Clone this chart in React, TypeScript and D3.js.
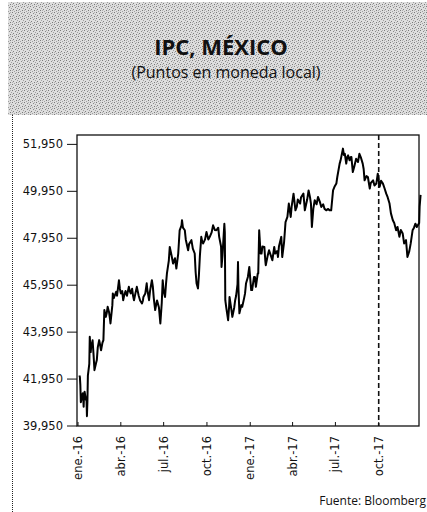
import React from "react";
import * as d3 from "d3";

const dates: string[] = [
  "2016-01-04","2016-01-05","2016-01-06","2016-01-07","2016-01-08","2016-01-11","2016-01-12","2016-01-13","2016-01-14","2016-01-15",
  "2016-01-18","2016-01-19","2016-01-20","2016-01-21","2016-01-22","2016-01-25","2016-01-26","2016-01-27","2016-01-28","2016-01-29",
  "2016-02-01","2016-02-03","2016-02-05","2016-02-08","2016-02-10","2016-02-12","2016-02-15","2016-02-17","2016-02-19","2016-02-22",
  "2016-02-24","2016-02-26","2016-02-29","2016-03-02","2016-03-04","2016-03-07","2016-03-09","2016-03-10","2016-03-14","2016-03-15",
  "2016-03-17","2016-03-22","2016-03-24","2016-03-28","2016-03-30","2016-04-01","2016-04-04","2016-04-06","2016-04-08","2016-04-11",
  "2016-04-14","2016-04-18","2016-04-20","2016-04-22","2016-04-25","2016-04-27","2016-04-29","2016-05-02","2016-05-05","2016-05-09",
  "2016-05-12","2016-05-16","2016-05-18","2016-05-19","2016-05-23","2016-05-26","2016-05-27","2016-05-31","2016-06-02","2016-06-06",
  "2016-06-08","2016-06-10","2016-06-13","2016-06-15","2016-06-17","2016-06-21","2016-06-24","2016-06-27","2016-06-29","2016-07-01",
  "2016-07-04","2016-07-06","2016-07-08","2016-07-12","2016-07-14","2016-07-18","2016-07-21","2016-07-25","2016-07-28","2016-08-01",
  "2016-08-04","2016-08-08","2016-08-09","2016-08-11","2016-08-15","2016-08-17","2016-08-22","2016-08-24","2016-08-29","2016-09-01",
  "2016-09-05","2016-09-07","2016-09-09","2016-09-12","2016-09-14","2016-09-16","2016-09-19","2016-09-21","2016-09-23","2016-09-27",
  "2016-09-30","2016-10-04","2016-10-07","2016-10-11","2016-10-14","2016-10-18","2016-10-21","2016-10-25","2016-10-27","2016-10-31",
  "2016-11-01","2016-11-03","2016-11-07","2016-11-08","2016-11-09","2016-11-11","2016-11-15","2016-11-17","2016-11-18","2016-11-22",
  "2016-11-24","2016-11-28","2016-11-30","2016-12-02","2016-12-05","2016-12-06","2016-12-07","2016-12-09","2016-12-13","2016-12-15",
  "2016-12-19","2016-12-21","2016-12-23","2016-12-27","2016-12-30",
  "2017-01-03","2017-01-05","2017-01-09","2017-01-11","2017-01-13","2017-01-17","2017-01-18","2017-01-20","2017-01-23","2017-01-25",
  "2017-01-27","2017-01-31","2017-02-02","2017-02-03","2017-02-07","2017-02-10","2017-02-14","2017-02-17","2017-02-21","2017-02-23",
  "2017-02-27","2017-03-01","2017-03-03","2017-03-08","2017-03-10","2017-03-14","2017-03-17","2017-03-21","2017-03-24","2017-03-28",
  "2017-03-30","2017-04-03","2017-04-05","2017-04-07","2017-04-10","2017-04-12","2017-04-17","2017-04-19","2017-04-24","2017-04-26",
  "2017-04-27","2017-05-02","2017-05-05","2017-05-08","2017-05-10","2017-05-12","2017-05-15","2017-05-18","2017-05-22","2017-05-25",
  "2017-05-29","2017-06-01","2017-06-05","2017-06-08","2017-06-12","2017-06-15","2017-06-19","2017-06-22","2017-06-26","2017-06-29",
  "2017-07-03","2017-07-05","2017-07-10","2017-07-12","2017-07-17","2017-07-19","2017-07-21","2017-07-24","2017-07-26","2017-07-28",
  "2017-07-31","2017-08-02","2017-08-04","2017-08-07","2017-08-10","2017-08-14","2017-08-18","2017-08-21","2017-08-24","2017-08-28",
  "2017-08-30","2017-09-01","2017-09-05","2017-09-08","2017-09-12","2017-09-14","2017-09-19","2017-09-22","2017-09-26","2017-09-29",
  "2017-10-03","2017-10-06","2017-10-10","2017-10-13","2017-10-17","2017-10-20","2017-10-24","2017-10-27","2017-10-31","2017-11-03",
  "2017-11-07","2017-11-10","2017-11-14","2017-11-17","2017-11-21","2017-11-24","2017-11-28","2017-11-30","2017-12-01","2017-12-05",
  "2017-12-08","2017-12-12","2017-12-15","2017-12-18","2017-12-21","2017-12-26","2017-12-27","2017-12-29"
];

const values: number[] = [
  42100,42040,41690,40960,41060,41340,41200,40770,41340,41410,
  41060,41170,40370,41000,42100,42600,43750,43400,43100,43320,
  43600,43000,42330,42600,42760,43300,43610,43400,43180,43500,
  43610,44890,44600,44750,45030,44800,44500,44320,45100,45600,
  45400,45670,45500,46160,45800,45600,45700,45310,45500,45700,
  45500,45880,45700,45600,45800,45500,45310,45600,45880,45500,
  45300,45170,45300,45450,45600,46030,45800,45310,45700,46160,
  45900,45400,44890,45100,45300,45000,44320,45200,46160,45700,
  45450,46000,46450,47000,47580,47200,46870,47100,46660,47300,
  48290,48500,48720,48400,48290,47900,47440,47700,47870,47510,
  47300,46500,46020,45810,46400,47200,48010,47800,47730,47900,
  48220,47900,48010,48200,48500,48300,48290,48400,48010,47600,
  46730,47200,48570,48200,45310,45000,44460,45000,45450,44900,
  44600,45000,45310,45500,46000,46940,45800,44750,45100,45030,
  45400,45600,46020,46300,46730,
  45740,45740,46300,46300,45880,46450,46450,48290,47300,47300,
  47600,47580,47000,46800,47200,47440,47200,47010,47580,47300,
  47400,47150,47600,48010,47150,47800,48640,48860,49430,48860,
  49300,49850,49500,49140,49300,49600,49430,49700,49850,49400,
  49140,49600,49990,49700,49430,48430,49200,49570,49400,49710,
  49500,49280,49400,49200,49140,49200,49140,49140,49990,50140,
  50280,50560,51130,51270,51770,51500,51550,51130,51400,51480,
  51270,51400,51410,50770,51000,51340,51200,51550,51400,51130,
  50900,50420,50600,50560,50070,50300,50420,50200,50280,50700,
  50140,50400,50280,50100,49850,49700,49430,49010,48720,48600,
  48290,48430,48010,48300,48150,47730,47870,47400,47150,47400,
  47730,48290,48400,48570,48430,48600,49300,49800
];

const yTickValues: number[] = [39950, 41950, 43950, 45950, 47950, 49950, 51950];
const xTickDates: string[] = ["2016-01-01","2016-04-01","2016-07-01","2016-10-01","2017-01-01","2017-04-01","2017-07-01","2017-10-01"];
const xTickLabels: string[] = ["ene.-16","abr.-16","jul.-16","oct.-16","ene.-17","abr.-17","jul.-17","oct.-17"];
const markerDate = "2017-10-01";

const title = "IPC, MÉXICO";
const subtitle = "(Puntos en moneda local)";
const source = "Fuente: Bloomberg";

export default function App() {
  const W = 427, H = 512;
  const left = 77, right = 419, top = 135, bottom = 426;
  const parse = d3.timeParse("%Y-%m-%d");
  const x = d3.scaleTime()
    .domain([parse("2016-01-01") as Date, parse("2018-01-01") as Date])
    .range([78, 422]);
  const y = d3.scaleLinear().domain([39950, 52350]).range([bottom, top]);
  const data = dates.map((d, i) => ({ date: parse(d) as Date, value: values[i] }));
  const line = d3.line<{ date: Date; value: number }>()
    .x(d => x(d.date))
    .y(d => y(d.value));
  const fmt = d3.format(",");
  const mx = x(parse(markerDate) as Date);

  return (
    <svg width={W} height={H} style={{ position: "absolute", left: 0, top: 0, background: "#fff" }}>
      <defs>
        <pattern id="ht" width="6" height="6" patternUnits="userSpaceOnUse">
          <rect width="6" height="6" fill="#dedede" />
          <rect x="0" y="0" width="1" height="1" fill="#7a7a7a" />
          <rect x="3" y="1" width="1" height="1" fill="#8a8a8a" />
          <rect x="1" y="3" width="1" height="1" fill="#808080" />
          <rect x="4" y="4" width="1" height="1" fill="#7a7a7a" />
          <rect x="5" y="2" width="1" height="1" fill="#a0a0a0" />
          <rect x="2" y="5" width="1" height="1" fill="#a0a0a0" />
          <rect x="4" y="0" width="1" height="1" fill="#b0b0b0" />
          <rect x="0" y="4" width="1" height="1" fill="#b0b0b0" />
        </pattern>
      </defs>
      <rect x={8} y={2} width={W - 8} height={113} fill="url(#ht)" />
      <text x={221} y={55} textAnchor="middle" fontFamily="'Open Sans', sans-serif" fontWeight="bold" fontSize={22} fill="#111">{title}</text>
      <text x={226} y={78} textAnchor="middle" fontFamily="'Open Sans', sans-serif" fontSize={16} fill="#111">{subtitle}</text>
      <line x1={12.5} x2={12.5} y1={115} y2={512} stroke="#222" strokeWidth={1} strokeDasharray="1,1" />

      <rect x={left} y={top} width={right - left} height={bottom - top} fill="none" stroke="#111" strokeWidth={1.3} />

      {yTickValues.map(v => (
        <g key={v}>
          <line x1={67} x2={left} y1={y(v)} y2={y(v)} stroke="#111" strokeWidth={1} />
          <text x={63} y={y(v)} dy="0.35em" textAnchor="end" fontFamily="'DejaVu Sans', sans-serif" fontSize={11.5} fill="#111">{fmt(v)}</text>
        </g>
      ))}

      {xTickDates.map((d, i) => {
        const xx = x(parse(d) as Date);
        return (
          <g key={d}>
            <line x1={xx} x2={xx} y1={bottom} y2={bottom - 4} stroke="#111" strokeWidth={1} />
            <text transform={`translate(${xx},${436}) rotate(-90)`} dy="0.35em" textAnchor="end" fontFamily="'DejaVu Sans', sans-serif" fontSize={11.5} fill="#111">{xTickLabels[i]}</text>
          </g>
        );
      })}

      <line x1={mx} x2={mx} y1={top} y2={bottom} stroke="#111" strokeWidth={1.6} strokeDasharray="5,3" />

      <path d={line(data) || ""} fill="none" stroke="#000" strokeWidth={2} strokeLinejoin="round" />

      <text x={426} y={505} textAnchor="end" fontFamily="'Open Sans', sans-serif" fontSize={12} fill="#111">{source}</text>
    </svg>
  );
}
